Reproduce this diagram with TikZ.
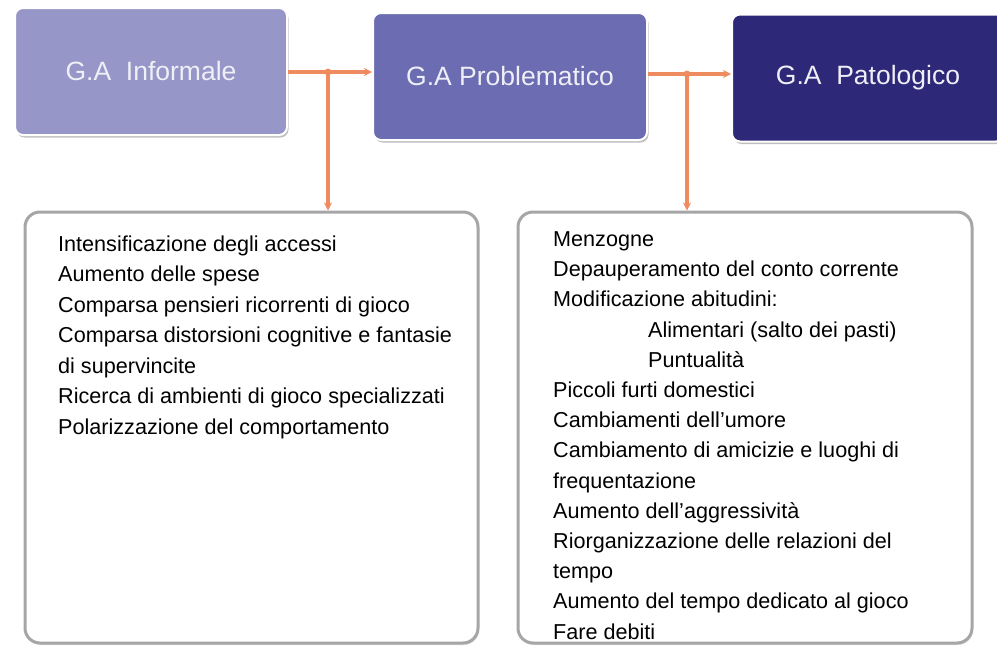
\documentclass[tikz,border=0pt]{standalone}
\usepackage{fontspec}
\setmainfont{Liberation Sans}
\usetikzlibrary{arrows.meta,shadows}
\definecolor{stageA}{RGB}{150,150,200}
\definecolor{stageB}{RGB}{108,108,178}
\definecolor{stageC}{RGB}{46,40,120}
\definecolor{linkorange}{RGB}{238,140,95}
\definecolor{framegray}{RGB}{166,166,166}
\tikzset{
  stage/.style={draw=white, line width=2pt, rounded corners=8pt,
    minimum width=272pt, minimum height=127pt, text=white!85!stageA,
    font=\fontsize{26.5}{30}\selectfont,
    drop shadow={shadow xshift=1.5pt, shadow yshift=-2.5pt, fill=black, opacity=0.25}},
  signs/.style={draw=framegray, line width=3pt, rounded corners=15pt, fill=white,
    minimum width=453pt, minimum height=431pt,
    drop shadow={shadow xshift=1pt, shadow yshift=-2pt, fill=black, opacity=0.12}},
  signtext/.style={anchor=north west, inner sep=0pt, align=left},
  feed/.style={draw=linkorange, line width=3.5pt, -{Stealth[length=8pt,width=8pt]}}
}

\begin{document}
\begin{tikzpicture}[x=1pt,y=-1pt]
	\useasboundingbox[fill=white] (0,0) rectangle (997,648);
	% the three stages
	\node[stage, fill=stageA] (inf) at (151,71.5) {G.A\ \ Informale};
	\node[stage, fill=stageB, minimum width=274pt] (prob) at (510,76.5) {G.A Problematico};
	\node[stage, fill=stageC] (pat) at (868,78) {G.A\ \ Patologico};
	% boxes with the signs
	\node[signs] (sl) at (251.5,427.5) {};
	\node[signs, minimum width=454pt] (sr) at (745,427.5) {};
	% connectors
	\coordinate (j1) at (328,72);
	\coordinate (j2) at (687,74);
	\draw[feed] (inf.east |- j1) -- (prob.west |- j1);
	\draw[feed] (j1) -- (j1 |- sl.north);
	\fill[linkorange] (j1) circle (3.5pt);
	\draw[feed] (prob.east |- j2) -- (pat.west |- j2);
	\draw[feed] (j2) -- (j2 |- sr.north);
	\fill[linkorange] (j2) circle (3.5pt);
	% lists
	\node[signtext, font=\fontsize{21.6}{30.5}\selectfont] (slt) at (58,235.5) {%
		Intensificazione degli accessi\\
		Aumento delle spese\\
		Comparsa pensieri ricorrenti di gioco\\
		Comparsa distorsioni cognitive e fantasie\\
		di supervincite\\
		Ricerca di ambienti di gioco specializzati\\
		Polarizzazione del comportamento};
	\node[signtext, font=\fontsize{21.6}{30.2}\selectfont] (srt) at (553,231.5) {%
		Menzogne\\
		Depauperamento del conto corrente\\
		Modificazione abitudini:\\
		\hspace*{95pt}Alimentari (salto dei pasti)\\
		\hspace*{95pt}Puntualità\\
		Piccoli furti domestici\\
		Cambiamenti dell’umore\\
		Cambiamento di amicizie e luoghi di\\
		frequentazione\\
		Aumento dell’aggressività\\
		Riorganizzazione delle relazioni del\\
		tempo\\
		Aumento del tempo dedicato al gioco\\
		Fare debiti};
\end{tikzpicture}
\end{document}
